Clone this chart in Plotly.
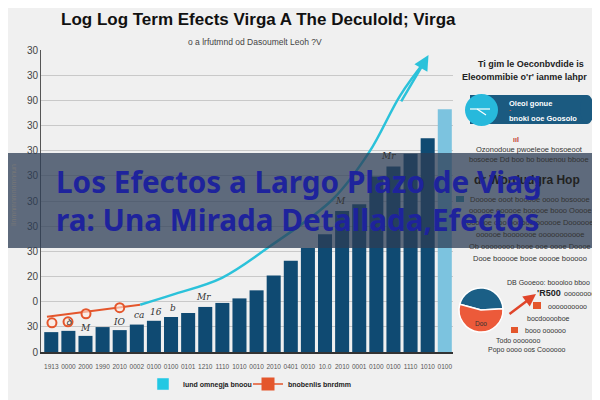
import plotly.graph_objects as go

# ---------------- data ----------------
x_labels = ["1913", "0000", "2000", "1990", "2010", "0002", "0100", "0100",
            "0101", "1210", "1110", "1010", "0010", "2010", "0401", "0010",
            "10.0", "2010", "0001", "0100", "0100", "1110", "1010", "0100"]
bar_values = [7.9, 8.4, 6.4, 9.9, 8.7, 10.9, 12.4, 13.9, 15.5, 17.9, 19.5, 21.3,
              24.5, 30.4, 36.3, 41.3, 46.8, 56.0, 58.7, 69.7, 73.7, 78.8, 84.9, 96.5]
bar_colors = ["#0f4a72"] * 23 + ["#7cc3df"]

curve_x = [5.2, 7.1, 9.98, 12.78, 16.47, 18.6, 20.4, 21.9]
curve_y = [18.8, 22.8, 29.5, 42.0, 60.8, 79.6, 102.0, 116.0]

orange_line_x = [-0.25, 5.2]
orange_line_y = [14.0, 18.8]
orange_marker_x = [0.04, 0.98, 2.03, 4.0]
orange_marker_y = [11.6, 12.0, 15.2, 17.6]

y_tickvals = [0, 10, 20, 30, 40, 50, 60, 70, 80, 90, 100, 110, 120]
y_ticktext = ["0", "30", "0", "20", "30", "30", "30", "30", "30", "30", "90", "30", "30"]

pie_labels = ["Ooo", "Doo"]
pie_values = [45, 55]

legend_names = ["lund omnegja bnoou", "bnobenlis bnrdmm"]

title_text = "Log Log Term Efects Virga A The Deculold; Virga"
subtitle_text = "o a lrfutmnd od Dasoumelt Leoh ?V"
banner_lines = ["Los Efectos a Largo Plazo de Viag", "ra: Una Mirada Detallada,Efectos"]

NAVY = "#0f4a72"
CYAN = "#2bc2da"
ORANGE = "#e4562c"
SANS = "Liberation Sans, Arial, sans-serif"

# The page body adds an 8px offset; the figure is sized/shifted so that the
# plot area lands at window pixels x 41..594, y 50..352.
# pixel (window) -> paper helpers
def X(px):
    return (px - 41) / 553.0

def Y(py):
    return (352 - py) / 302.0

fig = go.Figure()

fig.add_trace(go.Bar(x=list(range(len(bar_values))), y=bar_values,
                     marker=dict(color=bar_colors, line=dict(width=0)),
                     width=0.82, showlegend=False, hoverinfo="skip"))

fig.add_trace(go.Scatter(x=orange_line_x, y=orange_line_y, mode="lines",
                         line=dict(color=ORANGE, width=2),
                         showlegend=False, hoverinfo="skip"))
fig.add_trace(go.Scatter(x=orange_marker_x, y=orange_marker_y, mode="markers",
                         marker=dict(size=9, color="rgba(255,235,225,0.6)",
                                     line=dict(color=ORANGE, width=2)),
                         showlegend=False, hoverinfo="skip"))

fig.add_trace(go.Scatter(x=curve_x, y=curve_y, mode="lines",
                         line=dict(color=CYAN, width=2.5, shape="spline", smoothing=1.0),
                         showlegend=False, hoverinfo="skip"))

# legend entries
fig.add_trace(go.Bar(x=[None], y=[None], marker=dict(color="#22c8e3"), name=legend_names[0]))
fig.add_trace(go.Scatter(x=[None], y=[None], mode="lines+markers", name=legend_names[1],
                         line=dict(color=ORANGE, width=1.5),
                         marker=dict(symbol="square", size=13, color=ORANGE)))

fig.add_trace(go.Pie(labels=pie_labels, values=pie_values, sort=False, direction="clockwise",
                     rotation=-75, marker=dict(colors=["#1b5f86", "#ec5a3a"],
                                               line=dict(color="white", width=1.5)),
                     textinfo="none", showlegend=False, hoverinfo="skip",
                     domain=dict(x=[X(459), X(503)], y=[Y(333), Y(287)])))

ann = []
def txt(px, py, t, size, color="#333", bold=False, xa="center", ya="middle", fam=SANS, angle=0):
    ann.append(dict(x=X(px), y=Y(py), xref="paper", yref="paper",
                    text=("<b>" + t + "</b>") if bold else t, xanchor=xa, yanchor=ya,
                    textangle=angle, showarrow=False,
                    font=dict(size=size, color=color, family=fam)))

# arrow head on cyan curve
ann.append(dict(x=curve_x[-1] + 0.15, y=curve_y[-1] + 2, ax=curve_x[-2], ay=curve_y[-2] - 3,
                xref="x", yref="y", axref="x", ayref="y", showarrow=True,
                arrowhead=2, arrowsize=1.2, arrowwidth=2.5, arrowcolor=CYAN, text=""))

# small labels near the bars
small = [(1.05, 12.0, "ꝺ"), (2.0, 9.5, "M"), (4.0, 12.0, "IO"), (5.1, 14.8, "ca"), (6.1, 16.0, "16"),
         (7.1, 17.5, "b"), (8.9, 22.0, "Mr"), (16.9, 60, "M"), (19.7, 78, "Mr")]
for sx, sy, st in small:
    ann.append(dict(x=sx, y=sy, xref="x", yref="y", text="<i>" + st + "</i>", showarrow=False,
                    font=dict(size=9, color="#333", family="DejaVu Serif")))

# title & subtitle
txt(258, 20, title_text, 17, color="#111", bold=True)
txt(255, 42, subtitle_text, 8.5, color="#444")

# y-axis side label
txt(13, 195, "Ilnmnmnmnnmnnun", 7, color="#777", angle=-90)

# right panel texts
txt(531, 64, "Ti gim le Oeconbvdide is", 9, color="#222", bold=True)
txt(524, 77, "Eleoommibie o'r' ianme lahpr", 9, color="#222", bold=True)
txt(507, 103, "Oleoi gonue", 7.5, color="white", bold=True, xa="left")
txt(507, 110, "-", 6, color="#e4562c", bold=True, xa="left")
txt(507, 118, "bnoki ooe Goosolo", 7.5, color="white", bold=True, xa="left")
txt(516, 139, "ııl", 7, color="#c0392b", bold=True)
para1 = ["Ozonodoue pwoeleoe bosoeoot", "bosoeoe Dd boo bo bouenou bbooe"]
for i, t in enumerate(para1):
    txt(529, 149 + 10 * i, t, 7.5, color="#333")
txt(527, 180, "dr Wordudgra Hop", 12, color="#222", bold=True)
para2 = ["Dooooe ooot booooe oooo bosoooe", "oooooe oooooe booooe booo Ooooe",
         "oooooe ooo oooooe oooooe Doooooe", "oooooe booooooe ooooooooooe",
         "Ob oooooooo booe ooe oooe Doooe", "Dooe booooe booe ooooe booooo"]
for i, t in enumerate(para2):
    txt(530, 199 + 11.8 * i, t, 7.5, color="#333")
txt(592, 282, "DB Gooeoo: boooloo bboo", 7, xa="right")
txt(535, 293, "'R500", 9, color="#222", bold=True, xa="left")
txt(562, 293, "ooooooooo", 7, xa="left")
txt(546, 306, "oooooooooo", 7, xa="left")
txt(548, 318, "bocdooooboe", 7)
txt(523, 330, "booo oooooo", 7, xa="left")
txt(518, 340, "Todo ooooooo", 7)
txt(527, 350, "Popo oooo oos Coooooo", 7)
txt(481, 323, "Doo", 6.5)

# orange pointer arrow from pie
ann.append(dict(x=X(536), y=Y(294), ax=-28, ay=21, xref="paper", yref="paper",
                showarrow=True, arrowhead=2, arrowwidth=2.5,
                arrowcolor="#e0452a", text=""))

# banner text
for i, t in enumerate(banner_lines):
    txt(54, 181 + 38 * i, t, 29.7, color="#1e239c", bold=True, xa="left", fam="Noto Sans")

def rect(x0, x1, y0, y1, color, kind="rect"):
    return dict(type=kind, xref="paper", yref="paper", x0=X(x0), x1=X(x1), y0=Y(y1), y1=Y(y0),
                fillcolor=color, line=dict(width=0), layer="above")

shapes = [
    rect(470, 587, 95, 124, "#1b5a80"),
    rect(580, 594, 95, 124, "#1b5a80", "circle"),
    rect(465, 498, 94, 126, "#27b9dc", "circle"),
    dict(type="line", xref="paper", yref="paper", x0=X(470), x1=X(490), y0=Y(109), y1=Y(109),
         line=dict(color="white", width=1.2), layer="above"),
    dict(type="line", xref="paper", yref="paper", x0=X(477), x1=X(486), y0=Y(109), y1=Y(115),
         line=dict(color="white", width=1.2), layer="above"),
    rect(456, 464, 196, 202, "#2a8fa8"),
    rect(533, 541, 302, 309, "#e4562c"),
    rect(511, 518, 327, 333, "#e4562c"),
    # banner
    rect(0, 600, 153, 248, "rgba(45,62,85,0.75)"),
]

fig.update_layout(
    width=592, height=392,
    margin=dict(l=33, r=6, t=42, b=48, autoexpand=False),
    paper_bgcolor="#f0f0f0", plot_bgcolor="#f0f0f0",
    bargap=0.18,
    xaxis=dict(domain=[0, 412 / 553], range=[-0.6, 23.48], tickmode="array",
               tickvals=list(range(len(x_labels))), ticktext=x_labels, tickangle=0,
               tickfont=dict(size=6.5, color="#555", family=SANS), ticklabelstandoff=7,
               showgrid=False, zeroline=False, showline=True, linecolor="#333", linewidth=1.5,
               ticks=""),
    yaxis=dict(range=[0, 120], tickmode="array", tickvals=y_tickvals, ticktext=y_ticktext,
               tickfont=dict(size=10, color="#444", family=SANS), gridcolor="#c9c9c9", gridwidth=1,
               zeroline=False, showline=True, linecolor="#555", linewidth=1, ticks=""),
    legend=dict(orientation="h", x=X(143), xanchor="left", y=Y(384), yanchor="middle",
                itemwidth=30, tracegroupgap=0, entrywidth=60, entrywidthmode="pixels",
                font=dict(size=7, color="#222", family=SANS, weight="bold"),
                bgcolor="rgba(0,0,0,0)"),
    annotations=ann, shapes=shapes,
)

fig.write_html("out.html")
